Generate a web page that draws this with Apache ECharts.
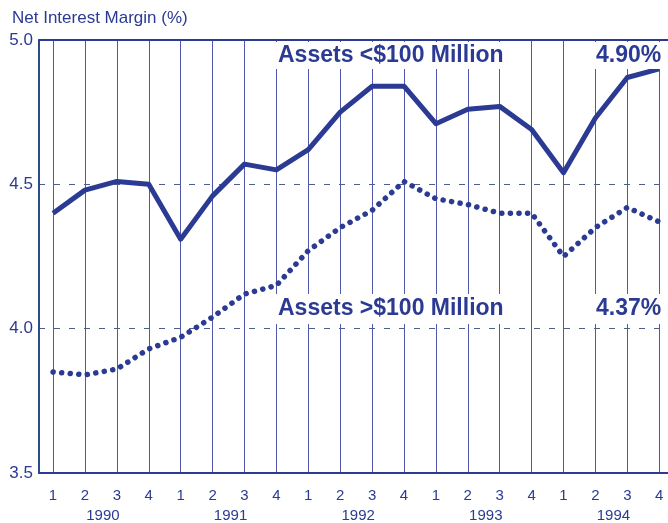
<!DOCTYPE html>
<html>
<head>
<meta charset="utf-8">
<title>Net Interest Margin</title>
<script src="https://cdn.jsdelivr.net/npm/echarts@6/dist/echarts.min.js"></script>
<style>
  html, body { margin: 0; padding: 0; background: #fff; overflow: hidden; }
  #chart { width: 668px; height: 523px; }
</style>
</head>
<body>
<div id="chart"></div>
<script>
// data
const quarters = ['1', '2', '3', '4', '1', '2', '3', '4', '1', '2', '3', '4', '1', '2', '3', '4', '1', '2', '3', '4']
const years = ['1990', '1991', '1992', '1993', '1994']
const smallBanks = [4.40, 4.48, 4.51, 4.50, 4.31, 4.46, 4.57, 4.55, 4.62, 4.75, 4.84, 4.84, 4.71, 4.76, 4.77, 4.69, 4.54, 4.73, 4.87, 4.90]
const largeBanks = [3.85, 3.84, 3.86, 3.93, 3.97, 4.04, 4.12, 4.15, 4.27, 4.35, 4.41, 4.51, 4.45, 4.43, 4.40, 4.40, 4.25, 4.35, 4.42, 4.37]
const yTicks = ['3.5', '4.0', '4.5', '5.0']
const smallLabel = 'Assets <$100 Million'
const largeLabel = 'Assets >$100 Million'

const navy = '#2b3a92'
const font = '"Liberation Sans", Arial, sans-serif'

const chart = echarts.init(document.getElementById('chart'), null, { renderer: 'canvas' })

const toPoints = arr => arr.map((v, i) => [i, v])

// x is a value axis so the first quarter can sit a little right of the y axis;
// the right end runs past the canvas so no edge line shows
const xBase = {
  type: 'value',
  min: -0.44,
  max: 19.62,
  minInterval: 1,
  maxInterval: 1
}

const option = {
  animation: false,
  grid: { left: 39, width: 640, top: 40, bottom: 50, outerBoundsMode: 'none' },
  title: {
    text: 'Net Interest Margin (%)',
    left: 7,
    top: 5,
    textStyle: { fontFamily: font, fontSize: 17, fontWeight: 'normal', color: navy }
  },
  xAxis: [
    {
      ...xBase,
      position: 'bottom',
      axisLine: { show: true, onZero: false, lineStyle: { color: navy, width: 2 } },
      axisTick: { show: false },
      splitLine: { show: true, lineStyle: { color: '#5259ad', width: 1 } },
      axisLabel: {
        margin: 13,
        fontFamily: font,
        fontSize: 15,
        color: navy,
        lineHeight: 20,
        formatter: v => {
          if (!Number.isInteger(v) || v < 0 || v >= quarters.length) return ''
          // year label sits between 2nd and 3rd quarter
          if (v % 4 === 1) return quarters[v] + '\n{yr|' + years[(v - 1) / 4] + '}'
          return quarters[v]
        },
        rich: {
          yr: { fontFamily: font, fontSize: 15, color: navy, padding: [0, 0, 0, 36], lineHeight: 20 }
        }
      }
    },
    {
      ...xBase,
      position: 'top',
      axisLine: { show: true, onZero: false, lineStyle: { color: navy, width: 2 } },
      axisTick: { show: false },
      axisLabel: { show: false },
      splitLine: { show: false }
    }
  ],
  yAxis: {
    type: 'value',
    min: 3.5,
    max: 5.0,
    interval: 0.5,
    axisLine: { show: true, onZero: false, lineStyle: { color: '#2a4d8a', width: 2 } },
    axisTick: { show: false },
    splitLine: { show: true, lineStyle: { color: '#4f5d8f', width: 1, type: [6, 9] } },
    axisLabel: {
      margin: 6,
      fontFamily: font,
      fontSize: 17,
      color: navy,
      formatter: v => yTicks.find(t => Math.abs(parseFloat(t) - v) < 1e-6) || ''
    }
  },
  graphic: [
    {
      type: 'text', z: 100, x: 272, y: 42,
      style: { text: smallLabel, font: 'bold 23px ' + font, fill: navy, backgroundColor: '#fff', padding: [2, 14, 2, 6] }
    },
    {
      type: 'text', z: 100, x: 580, y: 42,
      style: { text: '4.90%', font: 'bold 23px ' + font, fill: navy, backgroundColor: '#fff', padding: [2, 12, 2, 16] }
    },
    {
      type: 'text', z: 100, x: 272, y: 294,
      style: { text: largeLabel, font: 'bold 23px ' + font, fill: navy, backgroundColor: '#fff', padding: [3, 14, 4, 6] }
    },
    {
      type: 'text', z: 100, x: 580, y: 294,
      style: { text: '4.37%', font: 'bold 23px ' + font, fill: navy, backgroundColor: '#fff', padding: [3, 12, 4, 16] }
    }
  ],
  series: [
    {
      name: smallLabel,
      type: 'line',
      data: toPoints(smallBanks),
      symbol: 'none',
      lineStyle: { color: navy, width: 5, join: 'round' },
      z: 5
    },
    {
      name: largeLabel,
      type: 'line',
      data: toPoints(largeBanks),
      symbol: 'none',
      lineStyle: { color: navy, width: 5.5, type: [0.1, 8.5], cap: 'round' },
      z: 5
    }
  ]
}

chart.setOption(option)
</script>
</body>
</html>
